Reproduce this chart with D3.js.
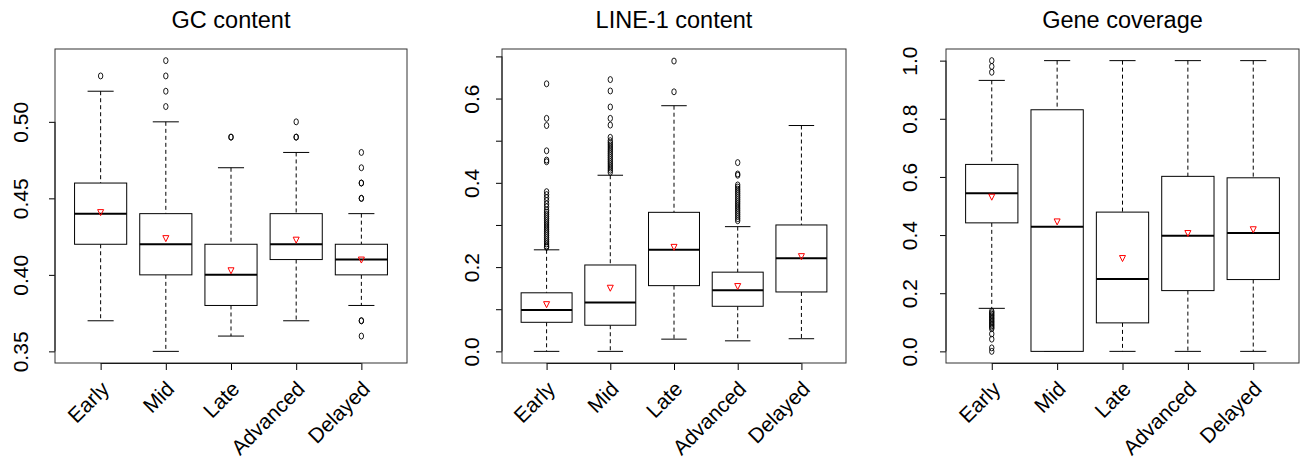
<!DOCTYPE html>
<html>
<head>
<meta charset="utf-8">
<script src="https://cdn.jsdelivr.net/npm/d3@7"></script>
<style>
  body { margin: 0; background: #fff; }
  text { font-family: "Liberation Sans", Arial, sans-serif; fill: #000; }
</style>
</head>
<body>
<svg id="chart" width="1302" height="461"></svg>
<script>
const categories = ["Early", "Mid", "Late", "Advanced", "Delayed"];

// GC content
const gcLow = [0.37, 0.35, 0.36, 0.37, 0.38];
const gcQ1 = [0.42, 0.40, 0.38, 0.41, 0.40];
const gcMedian = [0.44, 0.42, 0.40, 0.42, 0.41];
const gcQ3 = [0.46, 0.44, 0.42, 0.44, 0.42];
const gcHigh = [0.52, 0.50, 0.47, 0.48, 0.44];
const gcMean = [0.441, 0.424, 0.403, 0.423, 0.410];
const gcOutliers = [
  [0.53],
  [0.51, 0.52, 0.53, 0.54],
  [0.49, 0.49],
  [0.49, 0.49, 0.50],
  [0.36, 0.37, 0.37, 0.45, 0.45, 0.46, 0.46, 0.47, 0.48]
];
const gcTicks = [0.35, 0.40, 0.45, 0.50];

// LINE-1 content
const lineLow = [0.0, 0.0, 0.029, 0.025, 0.030];
const lineQ1 = [0.069, 0.062, 0.156, 0.107, 0.141];
const lineMedian = [0.098, 0.116, 0.241, 0.145, 0.221];
const lineQ3 = [0.139, 0.205, 0.330, 0.188, 0.300];
const lineHigh = [0.241, 0.418, 0.583, 0.296, 0.536];
const lineMean = [0.112, 0.151, 0.248, 0.155, 0.226];
const lineOutliers = [
  [0.635, 0.553, 0.536, 0.476, 0.454, 0.450, 0.379, 0.372, 0.365, 0.358, 0.350, 0.343,
   0.335, 0.330, 0.325, 0.320, 0.315, 0.310, 0.305, 0.300, 0.295, 0.290, 0.285, 0.280,
   0.275, 0.270, 0.265, 0.260, 0.255, 0.250, 0.247],
  [0.645, 0.618, 0.580, 0.553, 0.537, 0.508, 0.500, 0.495, 0.490, 0.485, 0.480, 0.475,
   0.470, 0.465, 0.460, 0.455, 0.450, 0.445, 0.440, 0.435, 0.430, 0.425],
  [0.689, 0.616],
  [0.448, 0.421, 0.418, 0.395, 0.390, 0.385, 0.380, 0.375, 0.370, 0.365, 0.360, 0.355,
   0.350, 0.345, 0.340, 0.335, 0.330, 0.325, 0.320, 0.315, 0.310],
  []
];
const lineTicks = [0.0, 0.1, 0.2, 0.3, 0.4, 0.5, 0.6, 0.7];
const lineTickLabels = ["0.0", "", "0.2", "", "0.4", "", "0.6", ""];

// Gene coverage
const geneLow = [0.148, 0.0, 0.0, 0.0, 0.0];
const geneQ1 = [0.442, 0.0, 0.098, 0.209, 0.247];
const geneMedian = [0.544, 0.429, 0.249, 0.398, 0.407];
const geneQ3 = [0.643, 0.831, 0.479, 0.602, 0.597];
const geneHigh = [0.932, 1.0, 1.0, 1.0, 1.0];
const geneMean = [0.532, 0.447, 0.321, 0.407, 0.420];
const geneOutliers = [
  [1.0, 0.98, 0.96, 0.138, 0.133, 0.128, 0.123, 0.118, 0.113, 0.108, 0.103, 0.098,
   0.093, 0.088, 0.083, 0.078, 0.060, 0.042, 0.012, 0.0],
  [], [], [], []
];
const geneTicks = [0.0, 0.2, 0.4, 0.6, 0.8, 1.0];

function rows(low, q1, med, q3, high, mean, outs) {
  return categories.map((c, i) => ({
    idx: i + 1, low: low[i], q1: q1[i], med: med[i], q3: q3[i], high: high[i],
    mean: mean[i], outs: outs[i]
  }));
}

const panels = [
  { title: "GC content", left: 55, right: 407, domain: [0.3424, 0.5476], labelGap: 27,
    ticks: gcTicks, fmt: d => d.toFixed(2),
    data: rows(gcLow, gcQ1, gcMedian, gcQ3, gcHigh, gcMean, gcOutliers) },
  { title: "LINE-1 content", left: 502, right: 846, domain: [-0.0276, 0.7176], labelGap: 23.5,
    ticks: lineTicks, fmt: (d, i) => lineTickLabels[i],
    data: rows(lineLow, lineQ1, lineMedian, lineQ3, lineHigh, lineMean, lineOutliers) },
  { title: "Gene coverage", left: 946, right: 1299, domain: [-0.04, 1.04], labelGap: 29.5,
    ticks: geneTicks, fmt: d => d.toFixed(1),
    data: rows(geneLow, geneQ1, geneMedian, geneQ3, geneHigh, geneMean, geneOutliers) }
];

const plotTop = 49, plotBottom = 363;
const svg = d3.select("#chart");

panels.forEach(p => {
  const x = d3.scaleLinear().domain([0.3, 5.7]).range([p.left, p.right]);
  const y = d3.scaleLinear().domain(p.domain).range([plotBottom, plotTop]);
  const g = svg.append("g");
  const bw = x(1.4) - x(1);       // half box width
  const cw = bw / 2;              // half staple width

  g.append("text")
    .attr("x", (p.left + p.right) / 2).attr("y", 28)
    .attr("text-anchor", "middle").attr("font-size", 23.5)
    .text(p.title);

  // y axis, labels written vertically like R
  const ya = g.append("g").attr("transform", `translate(${p.left},0)`)
    .call(d3.axisLeft(y).tickValues(p.ticks).tickSize(6).tickSizeOuter(0).tickFormat(p.fmt));
  ya.select(".domain").remove();
  ya.selectAll("text")
    .attr("x", null).attr("dy", null)
    .attr("transform", `translate(${-p.labelGap},0) rotate(-90)`)
    .attr("text-anchor", "middle").attr("font-size", 21)
    .style("font-family", "'Liberation Sans', Arial, sans-serif");
  g.append("line")
    .attr("x1", p.left).attr("x2", p.left)
    .attr("y1", y(p.ticks[0])).attr("y2", y(p.ticks[p.ticks.length - 1]))
    .attr("stroke", "#000");

  // x axis with rotated category names
  const xa = g.append("g").attr("transform", `translate(0,${plotBottom})`)
    .call(d3.axisBottom(x).tickValues([1, 2, 3, 4, 5]).tickSize(7).tickSizeOuter(0)
      .tickFormat(i => categories[i - 1]));
  xa.select(".domain").attr("d", `M${x(1)},0.5H${x(5)}`);
  xa.selectAll("text")
    .attr("y", null).attr("dy", null)
    .attr("transform", "translate(4,22) rotate(-45)")
    .attr("text-anchor", "end").attr("dominant-baseline", "central")
    .attr("font-size", 21)
    .style("font-family", "'Liberation Sans', Arial, sans-serif");

  // frame
  g.append("rect")
    .attr("x", p.left).attr("y", plotTop)
    .attr("width", p.right - p.left).attr("height", plotBottom - plotTop)
    .attr("fill", "none").attr("stroke", "#333");

  const box = g.selectAll(".box").data(p.data).join("g").attr("class", "box");

  // whiskers
  box.append("line")
    .attr("x1", d => x(d.idx)).attr("x2", d => x(d.idx))
    .attr("y1", d => y(d.high)).attr("y2", d => y(d.q3))
    .attr("stroke", "#000").attr("stroke-dasharray", "4,3");
  box.append("line")
    .attr("x1", d => x(d.idx)).attr("x2", d => x(d.idx))
    .attr("y1", d => y(d.q1)).attr("y2", d => y(d.low))
    .attr("stroke", "#000").attr("stroke-dasharray", "4,3");
  box.append("line")
    .attr("x1", d => x(d.idx) - cw).attr("x2", d => x(d.idx) + cw)
    .attr("y1", d => y(d.high)).attr("y2", d => y(d.high))
    .attr("stroke", "#000");
  box.append("line")
    .attr("x1", d => x(d.idx) - cw).attr("x2", d => x(d.idx) + cw)
    .attr("y1", d => y(d.low)).attr("y2", d => y(d.low))
    .attr("stroke", "#000");

  // box and median
  box.append("rect")
    .attr("x", d => x(d.idx) - bw).attr("width", 2 * bw)
    .attr("y", d => y(d.q3)).attr("height", d => y(d.q1) - y(d.q3))
    .attr("fill", "#fff").attr("stroke", "#000");
  box.append("line")
    .attr("x1", d => x(d.idx) - bw).attr("x2", d => x(d.idx) + bw)
    .attr("y1", d => y(d.med)).attr("y2", d => y(d.med))
    .attr("stroke", "#000").attr("stroke-width", 2);

  // outliers
  box.selectAll(".out").data(d => d.outs.map(v => ({ idx: d.idx, v }))).join("ellipse")
    .attr("class", "out")
    .attr("cx", d => x(d.idx)).attr("cy", d => y(d.v))
    .attr("rx", 2.2).attr("ry", 3)
    .attr("fill", "none").attr("stroke", "#000").attr("stroke-width", 0.9);

  // mean triangles
  box.append("path")
    .attr("d", d => {
      const cx = x(d.idx), cy = y(d.mean);
      return `M${cx - 3},${cy - 2.5}L${cx + 3},${cy - 2.5}L${cx},${cy + 3.5}Z`;
    })
    .attr("fill", "none").attr("stroke", "#f00").attr("stroke-width", 1);
});
</script>
</body>
</html>
